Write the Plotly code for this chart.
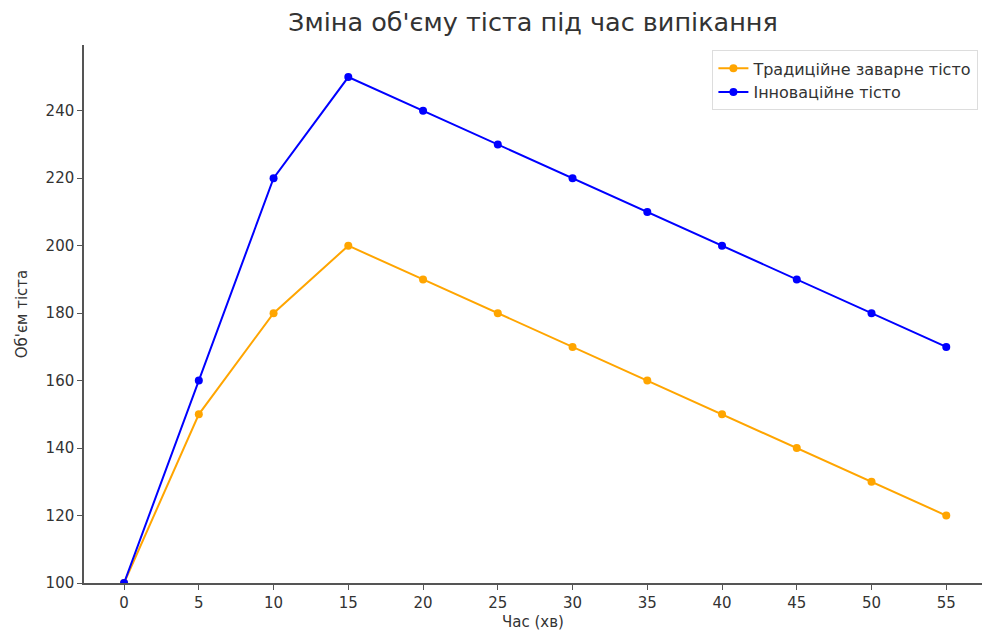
import plotly.graph_objects as go

time_min = [0, 5, 10, 15, 20, 25, 30, 35, 40, 45, 50, 55]
traditional = [100, 150, 180, 200, 190, 180, 170, 160, 150, 140, 130, 120]
innovative = [100, 160, 220, 250, 240, 230, 220, 210, 200, 190, 180, 170]
x_ticks = [0, 5, 10, 15, 20, 25, 30, 35, 40, 45, 50, 55]
y_ticks = [100, 120, 140, 160, 180, 200, 220, 240]

fig = go.Figure()
fig.add_trace(go.Scatter(x=time_min, y=traditional, mode="lines+markers",
                         name="Традиційне заварне тісто",
                         line=dict(color="#FFA500", width=2),
                         marker=dict(color="#FFA500", size=8)))
fig.add_trace(go.Scatter(x=time_min, y=innovative, mode="lines+markers",
                         name="Інноваційне тісто",
                         line=dict(color="#0000FF", width=2),
                         marker=dict(color="#0000FF", size=8)))

axis_common = dict(showgrid=False, zeroline=False, showline=True,
                   linecolor="#555555", linewidth=1.5, ticks="outside",
                   ticklen=5, tickcolor="#555555",
                   tickfont=dict(family="DejaVu Sans", size=15, color="#333333"))

fig.update_layout(
    width=982, height=633,
    margin=dict(l=84, r=0, t=45, b=50),
    paper_bgcolor="white", plot_bgcolor="white",
    title=dict(text="Зміна об'єму тіста під час випікання",
               x=0.5, xref="paper", xanchor="center", y=0.965, yanchor="middle",
               font=dict(family="DejaVu Sans", size=25.5, color="#333333")),
    xaxis=dict(range=[-2.68, 57.39], tickvals=x_ticks,
               title=dict(text="Час (хв)", standoff=6,
                          font=dict(family="DejaVu Sans", size=15, color="#333333")),
               **axis_common),
    yaxis=dict(range=[100, 259.5], tickvals=y_ticks,
               title=dict(text="Об'єм тіста", standoff=14,
                          font=dict(family="DejaVu Sans", size=15, color="#333333")),
               **axis_common),
    legend=dict(x=0.996, y=0.99, xanchor="right", yanchor="top",
                bgcolor="rgba(255,255,255,0.8)", bordercolor="#dddddd", borderwidth=1,
                font=dict(family="DejaVu Sans", size=16, color="#333333")),
    showlegend=True,
)

fig.write_html("out.html")
